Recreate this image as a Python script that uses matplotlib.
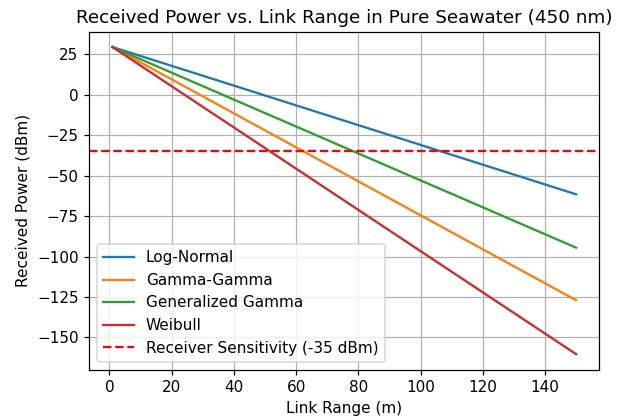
import matplotlib
matplotlib.use("Agg")
import matplotlib.pyplot as plt

link_range = [1, 150]

log_normal = [29.5, -61.5]
gamma_gamma = [29.5, -127.0]
generalized_gamma = [29.5, -94.5]
weibull = [29.5, -160.3]

sensitivity = -35

plt.figure(figsize=(622 / 110, 420 / 110), dpi=110)

plt.plot(link_range, log_normal, label="Log-Normal")
plt.plot(link_range, gamma_gamma, label="Gamma-Gamma")
plt.plot(link_range, generalized_gamma, label="Generalized Gamma")
plt.plot(link_range, weibull, label="Weibull")
plt.axhline(sensitivity, color="red", linestyle="--",
            label="Receiver Sensitivity (-35 dBm)")

plt.title("Received Power vs. Link Range in Pure Seawater (450 nm)")
plt.xlabel("Link Range (m)")
plt.ylabel("Received Power (dBm)")
plt.legend(loc="lower left")
plt.grid(True)

plt.subplots_adjust(left=0.1436, right=0.9635, top=0.9245, bottom=0.1202)
plt.savefig("out.png")
